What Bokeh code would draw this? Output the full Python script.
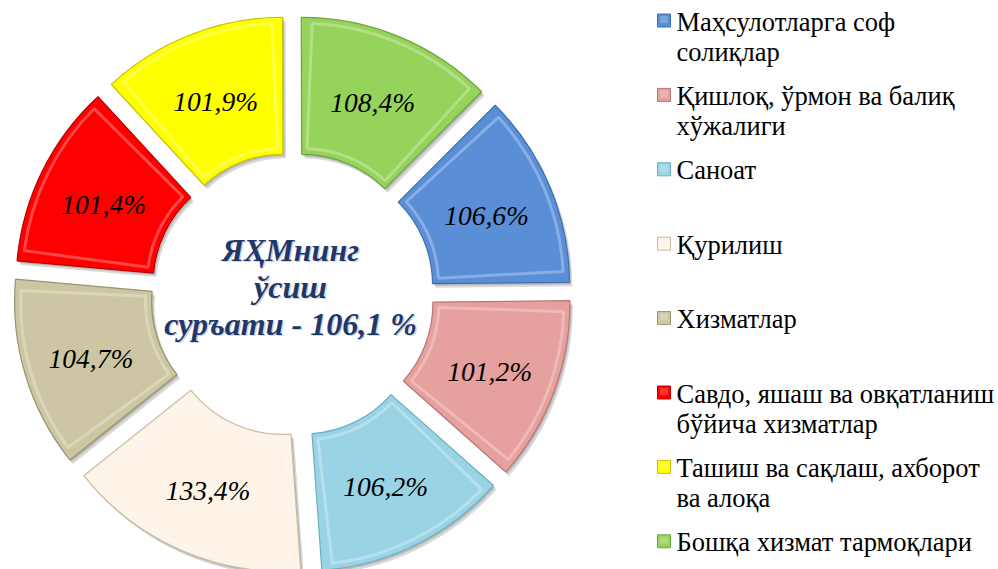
import math
from bokeh.plotting import figure
from bokeh.models import Range1d
from bokeh.embed import file_html
from bokeh.resources import INLINE
from bokeh.core.properties import value

# ---------------- data ----------------
categories = [
    "Маҳсулотларга соф\nсолиқлар",
    "Қишлоқ, ўрмон ва балиқ\nхўжалиги",
    "Саноат",
    "Қурилиш",
    "Хизматлар",
    "Савдо, яшаш ва овқатланиш\nбўйича хизматлар",
    "Ташиш ва сақлаш, ахборот\nва алоқа",
    "Бошқа хизмат тармоқлари",
]
values = [106.6, 101.2, 106.2, 133.4, 104.7, 101.4, 101.9, 108.4]
colors = ["#5A8FD8", "#E6A09E", "#9AD4E4", "#FDF3E6", "#CCC7A2", "#FF0000", "#FFFF00", "#96D35A"]
edge_colors = ["#3F6FB0", "#B97775", "#6AAFC2", "#C9BCA8", "#99936F", "#B80000", "#C2C200", "#6DA53A"]
center_title = ["ЯҲМнинг", "ўсиш", "суръати - 106,1 %"]

# ---------------- layout ----------------
W, H = 998, 569
FONT = "Liberation Serif"
cx, cy = 292.0, -294.0          # donut centre (data units = pixels, y = -screen_y)
R_out, R_in = 254.0, 117.0
explode = 25.0
start_compass = 45.0

p = figure(width=W, height=H, x_range=Range1d(0, W), y_range=Range1d(-H, 0),
           min_border=0, toolbar_location=None, output_backend="svg",
           x_axis_location=None, y_axis_location=None)
p.grid.visible = False
p.outline_line_color = None
p.background_fill_color = "white"
p.border_fill_color = "white"

total = sum(values)
cum = 0.0
xs, ys, sa, ea, lx, ly = [], [], [], [], [], []
for v in values:
    c0 = start_compass + 360.0 * cum / total
    cum += v
    c1 = start_compass + 360.0 * cum / total
    b = math.radians((c0 + c1) / 2)
    ox, oy = cx + explode * math.sin(b), cy + explode * math.cos(b)
    xs.append(ox); ys.append(oy)
    sa.append(math.radians(90 - c1)); ea.append(math.radians(90 - c0))
    rm = (R_out + R_in) / 2
    lx.append(ox + rm * math.sin(b)); ly.append(oy + rm * math.cos(b) - 3)

# shadows
p.annular_wedge(x=[x + 3 for x in xs], y=[y - 4 for y in ys], inner_radius=R_in, outer_radius=R_out,
                start_angle=sa, end_angle=ea, fill_color="#000000", fill_alpha=0.15, line_color=None)
p.annular_wedge(x=[x + 1.5 for x in xs], y=[y - 2 for y in ys], inner_radius=R_in, outer_radius=R_out,
                start_angle=sa, end_angle=ea, fill_color="#000000", fill_alpha=0.15, line_color=None)
# slices
p.annular_wedge(x=xs, y=ys, inner_radius=R_in, outer_radius=R_out, start_angle=sa, end_angle=ea,
                fill_color=colors, line_color=edge_colors, line_width=1.2)
# bevel highlight
inset = 6.0
p.annular_wedge(x=xs, y=ys, inner_radius=R_in + inset, outer_radius=R_out - inset,
                start_angle=[a + inset / (R_in + 20) for a in sa], end_angle=[a - inset / (R_in + 20) for a in ea],
                fill_color=None, line_color="white", line_alpha=0.28, line_width=3)

# slice labels
slice_labels = [("%.1f" % v).replace(".", ",") + "%" for v in values]
p.text(x=lx, y=ly, text=slice_labels, text_font=value(FONT), text_font_style="italic",
       text_font_size="27.5px", text_align="center", text_baseline="middle", text_color="black")

# centre title
tx = [290.0] * len(center_title)
ty = [-(249.0 + 37.0 * i) for i in range(len(center_title))]
p.text(x=[x + 1.5 for x in tx], y=[y - 1.5 for y in ty], text=center_title, text_font=value(FONT),
       text_font_style="bold italic", text_font_size="32px", text_align="center",
       text_baseline="middle", text_color="#7F8FB5", text_alpha=0.4)
p.text(x=tx, y=ty, text=center_title, text_font=value(FONT), text_font_style="bold italic",
       text_font_size="32px", text_align="center", text_baseline="middle", text_color="#1F3868")

# legend
leg_step = 74.4
mk_x, mk_y0, mk_size = 663.5, 20.0, 13
txt_x, mid0, line_h = 676.0, 21.0, 30.5
mx = [mk_x] * len(categories)
my = [-(mk_y0 + i * leg_step) for i in range(len(categories))]
p.rect(x=mx, y=my, width=mk_size, height=mk_size, fill_color=colors, line_color=edge_colors, line_width=1)
p.rect(x=mx, y=[y + 1 for y in my], width=mk_size - 5, height=mk_size - 6, fill_color="white",
       fill_alpha=0.2, line_color=None)
ltx, lty, ltt = [], [], []
for i, c in enumerate(categories):
    for j, line in enumerate(c.split("\n")):
        ltx.append(txt_x); lty.append(-(mid0 + i * leg_step + j * line_h)); ltt.append(line)
p.text(x=ltx, y=lty, text=ltt, text_font=value(FONT), text_font_size="26.5px",
       text_align="left", text_baseline="middle", text_color="black")

open("out.html", "w").write(file_html(p, INLINE))
